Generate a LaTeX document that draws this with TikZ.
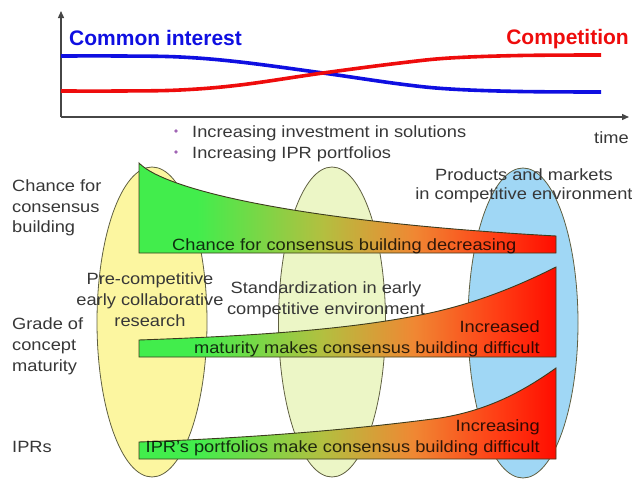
\documentclass[tikz,border=0pt]{standalone}
\usepackage{fontspec}
\setmainfont[FakeStretch=1.12]{Liberation Sans}
\newfontfamily\titlefont{Liberation Sans}
\usetikzlibrary{arrows.meta}
\definecolor{cblue}{RGB}{15,15,225}
\definecolor{cred}{RGB}{238,12,12}
\definecolor{axisgray}{RGB}{70,70,70}
\definecolor{txtgray}{RGB}{55,55,55}
\definecolor{ellyellow}{RGB}{252,246,160}
\definecolor{ellgreen}{RGB}{236,246,198}
\definecolor{ellblue}{RGB}{160,215,245}
\definecolor{ellline}{RGB}{95,95,65}
\definecolor{bandline}{RGB}{60,60,30}
\definecolor{bulletc}{RGB}{160,100,180}
\pgfdeclarehorizontalshading{bandshade}{100bp}{rgb(0bp)=(0.26,0.93,0.30); rgb(32bp)=(0.26,0.93,0.30); rgb(47bp)=(0.70,0.75,0.25); rgb(58bp)=(0.94,0.53,0.20); rgb(68bp)=(1,0.24,0.08); rgb(75bp)=(1,0.05,0); rgb(100bp)=(1,0.05,0)}
\newcommand\bodyfont{\fontsize{16.3}{20}\selectfont}
\tikzset{
  body/.style={inner sep=0pt, font=\bodyfont, text=txtgray},
  titletext/.style={inner sep=0pt, font=\titlefont\bfseries\fontsize{21}{25}\selectfont},
  bandtext/.style={inner sep=0pt, font=\bodyfont, text=black, text opacity=0.8},
  band/.style={shading=bandshade, draw=bandline, line width=0.9pt},
  ellbox/.style={draw=ellline, line width=0.8pt},
  curveline/.style={line width=3.6pt},
  axisline/.style={draw=axisgray, line width=1.3pt, -{Triangle[length=7pt,width=6pt]}},
  bulletdot/.style={circle, fill=bulletc, inner sep=0pt, minimum size=3.6pt}
}
\begin{document}
\begin{tikzpicture}[x=1pt, y=-1pt]
\useasboundingbox (0,0) rectangle (632,479);
% axes
\coordinate (origin) at (61,117);
\coordinate (ytop) at (61,11);
\coordinate (xend) at (629,117);
\draw[axisline] (origin) -- (ytop);
\draw[axisline] (origin) -- (xend);
% curves
\draw[curveline, cblue] plot[smooth, tension=0.6] coordinates {(61,56) (120,56) (180,57) (240,62) (323,73) (400,84) (450,89) (520,91.5) (601,92)};
\draw[curveline, cred] plot[smooth, tension=0.6] coordinates {(61,91) (120,91) (180,90) (240,85) (323,73) (400,63) (450,58) (520,55.5) (601,55)};
\node[titletext, text=cblue, anchor=base west] (ci) at (69,45) {Common interest};
\node[titletext, text=cred, anchor=base east] (comp) at (629,44) {Competition};
\node[body, anchor=base west] (time) at (594,143) {time};
\node[bulletdot] (d1) at (176,131) {};
\node[bulletdot] (d2) at (176,152) {};
\node[body, anchor=base west] (b1) at (192,137) {Increasing investment in solutions};
\node[body, anchor=base west] (b2) at (192,158) {Increasing IPR portfolios};
% ellipses
\draw[ellbox, fill=ellyellow] (152,322) ellipse [x radius=55, y radius=155];
\draw[ellbox, fill=ellgreen] (332,322) ellipse [x radius=53.5, y radius=155];
\draw[ellbox, fill=ellblue] (523,323) ellipse [x radius=55, y radius=155];
% bands
\path[band] (139,253) -- (139,163) .. controls (165,190) and (300,222) .. (556,236) -- (556,253) -- cycle;
\path[band] (139,357) -- (139,340) .. controls (250,336) and (350,330) .. (430,313) .. controls (480,302) and (520,285) .. (556,267) -- (556,357) -- cycle;
\path[band] (139,459) -- (139,442) .. controls (250,438) and (350,430) .. (440,418) .. controls (490,410) and (525,390) .. (556,368) -- (556,459) -- cycle;
% band texts
\node[bandtext, anchor=base west] (t1) at (172,250) {Chance for consensus building decreasing};
\node[bandtext, anchor=base east] (t2a) at (540,332) {Increased};
\node[bandtext, anchor=base east] (t2b) at (540,353) {maturity makes consensus building difficult};
\node[bandtext, anchor=base east] (t3a) at (540,431) {Increasing};
\node[bandtext, anchor=base east] (t3b) at (540,452) {IPR's portfolios make consensus building difficult};
% left labels
\node[body, anchor=base west] (l1a) at (12,191) {Chance for};
\node[body, anchor=base west] (l1b) at (12,212) {consensus};
\node[body, anchor=base west] (l1c) at (12,232) {building};
\node[body, anchor=base west] (l2a) at (12,329) {Grade of};
\node[body, anchor=base west] (l2b) at (12,350) {concept};
\node[body, anchor=base west] (l2c) at (12,371) {maturity};
\node[body, anchor=base west] (l3) at (12,452) {IPRs};
% ellipse labels
\node[body, anchor=base] (e1a) at (150,284) {Pre-competitive};
\node[body, anchor=base] (e1b) at (150,305) {early collaborative};
\node[body, anchor=base] (e1c) at (150,326) {research};
\node[body, anchor=base] (e2a) at (326,293) {Standardization in early};
\node[body, anchor=base] (e2b) at (326,314) {competitive environment};
\node[body, anchor=base] (e3a) at (524,180) {Products and markets};
\node[body, anchor=base] (e3b) at (524,199) {in competitive environment};
\end{tikzpicture}
\end{document}
